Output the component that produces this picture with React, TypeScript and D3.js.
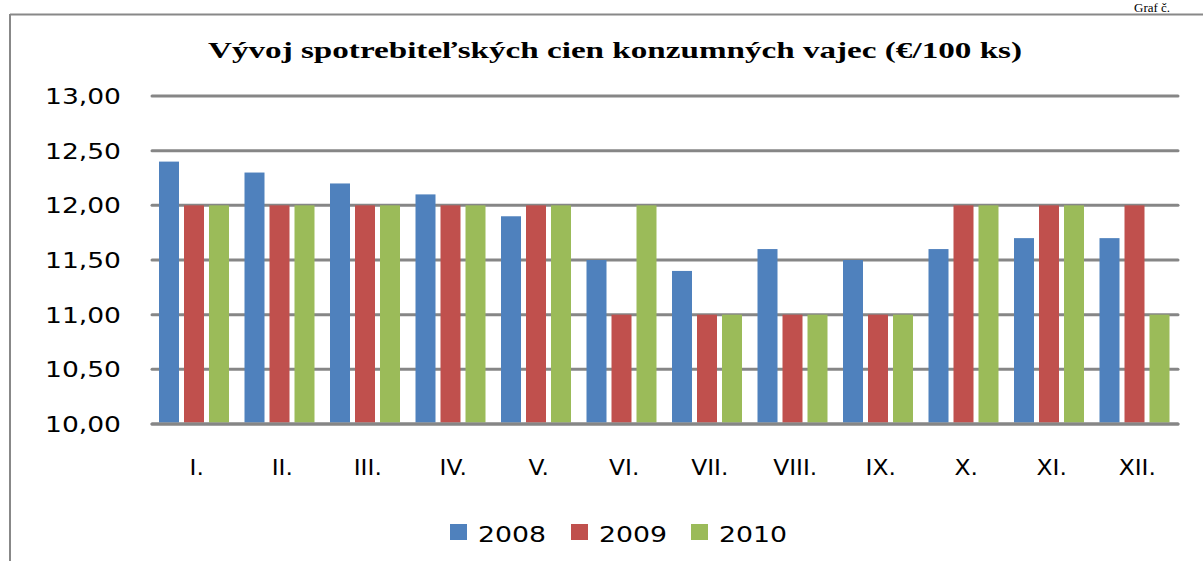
import React from "react";
import * as d3 from "d3";

const months = ["I.", "II.", "III.", "IV.", "V.", "VI.", "VII.", "VIII.", "IX.", "X.", "XI.", "XII."];
const seriesNames = ["2008", "2009", "2010"];
const values2008 = [12.4, 12.3, 12.2, 12.1, 11.9, 11.5, 11.4, 11.6, 11.5, 11.6, 11.7, 11.7];
const values2009 = [12.0, 12.0, 12.0, 12.0, 12.0, 11.0, 11.0, 11.0, 11.0, 12.0, 12.0, 12.0];
const values2010 = [12.0, 12.0, 12.0, 12.0, 12.0, 12.0, 11.0, 11.0, 11.0, 12.0, 12.0, 11.0];
const yTicks = [10, 10.5, 11, 11.5, 12, 12.5, 13];
const colors = ["#4F81BD", "#C0504D", "#9BBB59"];
const title = "Vývoj spotrebiteľských  cien konzumných  vajec (€/100 ks)";

export default function App() {
  const W = 1203, H = 561;
  const left = 152, right = 1178, top = 96, bottom = 424;
  const y = d3.scaleLinear().domain([10, 13]).range([bottom, top]);
  const x0 = d3.scaleBand<string>().domain(months).range([left, right]).padding(0);
  const x1 = d3.scaleBand<string>().domain(seriesNames).range([7, 77]).paddingInner(0.2).paddingOuter(0);
  const data = [values2008, values2009, values2010];
  const fmt = (v: number) => v.toFixed(2).replace(".", ",");
  const legendX = [450, 571, 691];

  return (
    <svg width={W} height={H} style={{ position: "absolute", left: 0, top: 0, background: "#fff" }}>
      <rect x={0} y={0} width={W} height={H} fill="#fff" />
      <text x={1134} y={12} fontFamily="Liberation Serif" fontSize={13} fill="#000">Graf č.</text>
      {/* frame */}
      <line x1={10} y1={14.5} x2={W} y2={14.5} stroke="#888" strokeWidth={2} />
      <line x1={10} y1={14} x2={10} y2={H} stroke="#888" strokeWidth={2} />
      {/* title */}
      <text x={208} y={58} fontFamily="Liberation Serif" fontWeight="bold" fontSize={23}
        textLength={814} lengthAdjust="spacingAndGlyphs" fill="#000">{title}</text>
      {/* gridlines */}
      {yTicks.map((t) => (
        <g key={t}>
          <line x1={left} x2={right} y1={y(t)} y2={y(t)} stroke="#868686" strokeWidth={3} strokeLinecap="round" />
          <text x={121} y={y(t) + 8} textAnchor="end" fontFamily="DejaVu Sans" fontSize={21}
            textLength={76} lengthAdjust="spacingAndGlyphs" fill="#000">{fmt(t)}</text>
        </g>
      ))}
      {/* bars */}
      {months.map((m, i) => (
        <g key={m} transform={`translate(${x0(m)},0)`}>
          {seriesNames.map((s, j) => (
            <rect key={s} x={x1(s)} y={y(data[j][i])} width={x1.bandwidth()} height={y(10) - y(data[j][i]) - 1.5}
              fill={colors[j]} />
          ))}
        </g>
      ))}
      <line x1={left} x2={right} y1={y(10)} y2={y(10)} stroke="#868686" strokeWidth={3} strokeLinecap="round" />
      {/* x labels */}
      {months.map((m) => (
        <g key={m} transform={`translate(${(x0(m) as number) + x0.bandwidth() / 2 + 2},475) scale(1.14,1)`}>
          <text x={0} y={0} textAnchor="middle" fontFamily="DejaVu Sans" fontSize={20.5} fill="#000">{m}</text>
        </g>
      ))}
      {/* legend */}
      {seriesNames.map((s, j) => (
        <g key={s}>
          <rect x={legendX[j]} y={524} width={17} height={16} fill={colors[j]} />
          <text x={legendX[j] + 28} y={542} fontFamily="DejaVu Sans" fontSize={21}
            textLength={68} lengthAdjust="spacingAndGlyphs" fill="#000">{s}</text>
        </g>
      ))}
    </svg>
  );
}
